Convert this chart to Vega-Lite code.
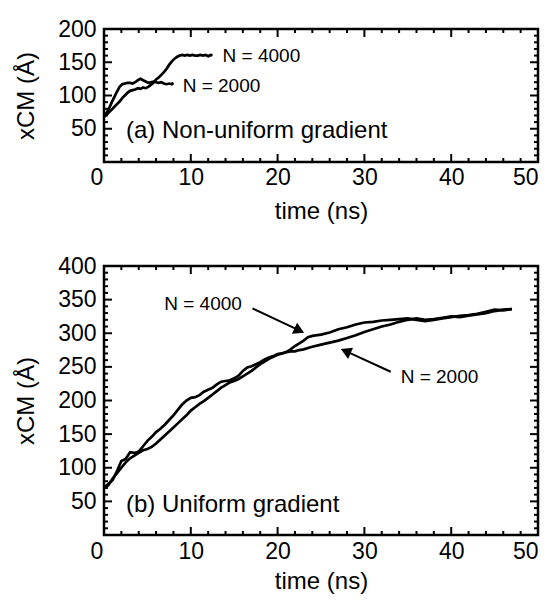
{
  "$schema": "https://vega.github.io/schema/vega-lite/v6.json",
  "padding": {"left": 13, "top": 16, "right": 2, "bottom": 2},
  "spacing": 28,
  "config": {
    "font": "Liberation Sans",
    "view": {"stroke": "black", "strokeWidth": 2.5},
    "axis": {
      "grid": false, "domain": false, "ticks": false, "tickSize": 0,
      "labelColor": "black", "titleColor": "black", "labelFontSize": 23, "titleFontSize": 24,
      "titleFontWeight": "normal", "labelFont": "Liberation Sans", "titleFont": "Liberation Sans"
    },
    "text": {"font": "Liberation Sans", "color": "black"},
    "rule": {"color": "black", "strokeWidth": 2}
  },
  "datasets": {
    "a": [
      {"N": "4000", "t": 0, "x": 68}, {"N": "4000", "t": 0.3, "x": 71}, {"N": "4000", "t": 0.6, "x": 75}, {"N": "4000", "t": 0.9, "x": 79},
      {"N": "4000", "t": 1.2, "x": 83}, {"N": "4000", "t": 1.5, "x": 87}, {"N": "4000", "t": 1.8, "x": 91}, {"N": "4000", "t": 2.1, "x": 96},
      {"N": "4000", "t": 2.4, "x": 100}, {"N": "4000", "t": 2.7, "x": 104}, {"N": "4000", "t": 3.0, "x": 107}, {"N": "4000", "t": 3.3, "x": 108},
      {"N": "4000", "t": 3.6, "x": 109}, {"N": "4000", "t": 3.9, "x": 111}, {"N": "4000", "t": 4.2, "x": 110}, {"N": "4000", "t": 4.5, "x": 112},
      {"N": "4000", "t": 4.8, "x": 111}, {"N": "4000", "t": 5.1, "x": 113}, {"N": "4000", "t": 5.4, "x": 116}, {"N": "4000", "t": 5.7, "x": 119},
      {"N": "4000", "t": 6.0, "x": 124}, {"N": "4000", "t": 6.3, "x": 127}, {"N": "4000", "t": 6.6, "x": 131}, {"N": "4000", "t": 6.9, "x": 135},
      {"N": "4000", "t": 7.2, "x": 140}, {"N": "4000", "t": 7.5, "x": 146}, {"N": "4000", "t": 7.8, "x": 151}, {"N": "4000", "t": 8.1, "x": 155},
      {"N": "4000", "t": 8.4, "x": 158}, {"N": "4000", "t": 8.7, "x": 160}, {"N": "4000", "t": 9.0, "x": 161}, {"N": "4000", "t": 9.3, "x": 160},
      {"N": "4000", "t": 9.6, "x": 161}, {"N": "4000", "t": 9.9, "x": 160}, {"N": "4000", "t": 10.2, "x": 161}, {"N": "4000", "t": 10.5, "x": 160},
      {"N": "4000", "t": 10.8, "x": 160}, {"N": "4000", "t": 11.1, "x": 161}, {"N": "4000", "t": 11.4, "x": 160}, {"N": "4000", "t": 11.7, "x": 161},
      {"N": "4000", "t": 12.0, "x": 159}, {"N": "4000", "t": 12.3, "x": 161}, {"N": "4000", "t": 12.5, "x": 160},
      {"N": "2000", "t": 0, "x": 68}, {"N": "2000", "t": 0.3, "x": 74}, {"N": "2000", "t": 0.6, "x": 81}, {"N": "2000", "t": 0.9, "x": 90},
      {"N": "2000", "t": 1.2, "x": 98}, {"N": "2000", "t": 1.5, "x": 106}, {"N": "2000", "t": 1.8, "x": 113}, {"N": "2000", "t": 2.1, "x": 117},
      {"N": "2000", "t": 2.4, "x": 118}, {"N": "2000", "t": 2.7, "x": 119}, {"N": "2000", "t": 3.0, "x": 119}, {"N": "2000", "t": 3.3, "x": 118},
      {"N": "2000", "t": 3.6, "x": 120}, {"N": "2000", "t": 3.9, "x": 123}, {"N": "2000", "t": 4.2, "x": 125}, {"N": "2000", "t": 4.5, "x": 123},
      {"N": "2000", "t": 4.8, "x": 121}, {"N": "2000", "t": 5.1, "x": 119}, {"N": "2000", "t": 5.4, "x": 120}, {"N": "2000", "t": 5.7, "x": 121},
      {"N": "2000", "t": 6.0, "x": 120}, {"N": "2000", "t": 6.3, "x": 119}, {"N": "2000", "t": 6.6, "x": 120}, {"N": "2000", "t": 6.9, "x": 118},
      {"N": "2000", "t": 7.2, "x": 117}, {"N": "2000", "t": 7.5, "x": 118}, {"N": "2000", "t": 7.8, "x": 117}, {"N": "2000", "t": 8.0, "x": 119}
    ],
    "b": [
      {"N": "4000", "t": 0, "x": 70}, {"N": "4000", "t": 0.5, "x": 76}, {"N": "4000", "t": 1, "x": 82}, {"N": "4000", "t": 1.5, "x": 95},
      {"N": "4000", "t": 2, "x": 110}, {"N": "4000", "t": 2.5, "x": 113}, {"N": "4000", "t": 3, "x": 123}, {"N": "4000", "t": 3.5, "x": 122},
      {"N": "4000", "t": 4, "x": 124}, {"N": "4000", "t": 4.5, "x": 132}, {"N": "4000", "t": 5, "x": 140}, {"N": "4000", "t": 5.5, "x": 146},
      {"N": "4000", "t": 6, "x": 153}, {"N": "4000", "t": 6.5, "x": 158}, {"N": "4000", "t": 7, "x": 164}, {"N": "4000", "t": 7.5, "x": 171},
      {"N": "4000", "t": 8, "x": 178}, {"N": "4000", "t": 8.5, "x": 186}, {"N": "4000", "t": 9, "x": 194}, {"N": "4000", "t": 9.5, "x": 200},
      {"N": "4000", "t": 10, "x": 204}, {"N": "4000", "t": 10.5, "x": 205}, {"N": "4000", "t": 11, "x": 208}, {"N": "4000", "t": 11.5, "x": 213},
      {"N": "4000", "t": 12, "x": 216}, {"N": "4000", "t": 12.5, "x": 219}, {"N": "4000", "t": 13, "x": 224}, {"N": "4000", "t": 13.5, "x": 228},
      {"N": "4000", "t": 14, "x": 229}, {"N": "4000", "t": 14.5, "x": 230}, {"N": "4000", "t": 15, "x": 233}, {"N": "4000", "t": 15.5, "x": 237},
      {"N": "4000", "t": 16, "x": 244}, {"N": "4000", "t": 16.5, "x": 249}, {"N": "4000", "t": 17, "x": 251}, {"N": "4000", "t": 17.5, "x": 254},
      {"N": "4000", "t": 18, "x": 257}, {"N": "4000", "t": 18.5, "x": 261}, {"N": "4000", "t": 19, "x": 264}, {"N": "4000", "t": 19.5, "x": 266},
      {"N": "4000", "t": 20, "x": 269}, {"N": "4000", "t": 20.5, "x": 270}, {"N": "4000", "t": 21, "x": 272}, {"N": "4000", "t": 21.5, "x": 276},
      {"N": "4000", "t": 22, "x": 281}, {"N": "4000", "t": 22.5, "x": 285}, {"N": "4000", "t": 23, "x": 289}, {"N": "4000", "t": 23.5, "x": 294},
      {"N": "4000", "t": 24, "x": 296}, {"N": "4000", "t": 25, "x": 298}, {"N": "4000", "t": 26, "x": 301}, {"N": "4000", "t": 27, "x": 306},
      {"N": "4000", "t": 28, "x": 309}, {"N": "4000", "t": 29, "x": 313}, {"N": "4000", "t": 30, "x": 316}, {"N": "4000", "t": 31, "x": 317},
      {"N": "4000", "t": 32, "x": 319}, {"N": "4000", "t": 33, "x": 320}, {"N": "4000", "t": 34, "x": 321}, {"N": "4000", "t": 35, "x": 322},
      {"N": "4000", "t": 36, "x": 320}, {"N": "4000", "t": 37, "x": 318}, {"N": "4000", "t": 38, "x": 320}, {"N": "4000", "t": 39, "x": 322},
      {"N": "4000", "t": 40, "x": 324}, {"N": "4000", "t": 41, "x": 326}, {"N": "4000", "t": 42, "x": 327}, {"N": "4000", "t": 43, "x": 329},
      {"N": "4000", "t": 44, "x": 332}, {"N": "4000", "t": 45, "x": 335}, {"N": "4000", "t": 46, "x": 334}, {"N": "4000", "t": 47, "x": 336},
      {"N": "2000", "t": 0, "x": 70}, {"N": "2000", "t": 0.5, "x": 74}, {"N": "2000", "t": 1, "x": 84}, {"N": "2000", "t": 1.5, "x": 92},
      {"N": "2000", "t": 2, "x": 100}, {"N": "2000", "t": 2.5, "x": 108}, {"N": "2000", "t": 3, "x": 114}, {"N": "2000", "t": 3.5, "x": 118},
      {"N": "2000", "t": 4, "x": 122}, {"N": "2000", "t": 4.5, "x": 126}, {"N": "2000", "t": 5, "x": 128}, {"N": "2000", "t": 5.5, "x": 131},
      {"N": "2000", "t": 6, "x": 136}, {"N": "2000", "t": 6.5, "x": 142}, {"N": "2000", "t": 7, "x": 148}, {"N": "2000", "t": 7.5, "x": 154},
      {"N": "2000", "t": 8, "x": 160}, {"N": "2000", "t": 8.5, "x": 166}, {"N": "2000", "t": 9, "x": 172}, {"N": "2000", "t": 9.5, "x": 178},
      {"N": "2000", "t": 10, "x": 185}, {"N": "2000", "t": 10.5, "x": 190}, {"N": "2000", "t": 11, "x": 195}, {"N": "2000", "t": 11.5, "x": 199},
      {"N": "2000", "t": 12, "x": 204}, {"N": "2000", "t": 12.5, "x": 209}, {"N": "2000", "t": 13, "x": 214}, {"N": "2000", "t": 13.5, "x": 219},
      {"N": "2000", "t": 14, "x": 223}, {"N": "2000", "t": 14.5, "x": 227}, {"N": "2000", "t": 15, "x": 229}, {"N": "2000", "t": 15.5, "x": 232},
      {"N": "2000", "t": 16, "x": 236}, {"N": "2000", "t": 16.5, "x": 240}, {"N": "2000", "t": 17, "x": 244}, {"N": "2000", "t": 17.5, "x": 249},
      {"N": "2000", "t": 18, "x": 254}, {"N": "2000", "t": 18.5, "x": 258}, {"N": "2000", "t": 19, "x": 262}, {"N": "2000", "t": 19.5, "x": 265},
      {"N": "2000", "t": 20, "x": 268}, {"N": "2000", "t": 20.5, "x": 270}, {"N": "2000", "t": 21, "x": 272}, {"N": "2000", "t": 21.5, "x": 273},
      {"N": "2000", "t": 22, "x": 273}, {"N": "2000", "t": 22.5, "x": 275}, {"N": "2000", "t": 23, "x": 276}, {"N": "2000", "t": 23.5, "x": 278},
      {"N": "2000", "t": 24, "x": 280}, {"N": "2000", "t": 25, "x": 283}, {"N": "2000", "t": 26, "x": 286}, {"N": "2000", "t": 27, "x": 289},
      {"N": "2000", "t": 28, "x": 293}, {"N": "2000", "t": 29, "x": 297}, {"N": "2000", "t": 30, "x": 302}, {"N": "2000", "t": 31, "x": 306},
      {"N": "2000", "t": 32, "x": 310}, {"N": "2000", "t": 33, "x": 313}, {"N": "2000", "t": 34, "x": 317}, {"N": "2000", "t": 35, "x": 320},
      {"N": "2000", "t": 36, "x": 322}, {"N": "2000", "t": 37, "x": 320}, {"N": "2000", "t": 38, "x": 321}, {"N": "2000", "t": 39, "x": 323},
      {"N": "2000", "t": 40, "x": 325}, {"N": "2000", "t": 41, "x": 324}, {"N": "2000", "t": 42, "x": 326}, {"N": "2000", "t": 43, "x": 328},
      {"N": "2000", "t": 44, "x": 330}, {"N": "2000", "t": 45, "x": 333}, {"N": "2000", "t": 46, "x": 335}, {"N": "2000", "t": 47, "x": 336}
    ],
    "titleA": [{"t": 2.53, "x": 46, "label": "(a) Non-uniform gradient"}],
    "titleB": [{"t": 2.53, "x": 44.6, "label": "(b) Uniform gradient"}],
    "labelsA": [{"t": 13.66, "x": 160, "label": "N = 4000"}, {"t": 9.06, "x": 113.8, "label": "N = 2000"}],
    "labelsB": [{"t": 6.94, "x": 343.5, "label": "N = 4000"}, {"t": 34.18, "x": 235.4, "label": "N = 2000"}],
    "arrowsB": [
      {"t": 17.1, "x": 337, "t2": 22.5, "x2": 304.2, "ang": 25},
      {"t": 33.03, "x": 242.8, "t2": 27.85, "x2": 273.3, "ang": 204}
    ],
    "xMajor": [{"v": 10}, {"v": 20}, {"v": 30}, {"v": 40}],
    "xMinor": [{"v": 2}, {"v": 4}, {"v": 6}, {"v": 8}, {"v": 12}, {"v": 14}, {"v": 16}, {"v": 18}, {"v": 22}, {"v": 24}, {"v": 26}, {"v": 28},
               {"v": 32}, {"v": 34}, {"v": 36}, {"v": 38}, {"v": 42}, {"v": 44}, {"v": 46}, {"v": 48}],
    "yMajorA": [{"v": 50}, {"v": 100}, {"v": 150}],
    "yMinorA": [{"v": 10}, {"v": 20}, {"v": 30}, {"v": 40}, {"v": 60}, {"v": 70}, {"v": 80}, {"v": 90}, {"v": 110}, {"v": 120}, {"v": 130}, {"v": 140},
                {"v": 160}, {"v": 170}, {"v": 180}, {"v": 190}],
    "yMajorB": [{"v": 50}, {"v": 100}, {"v": 150}, {"v": 200}, {"v": 250}, {"v": 300}, {"v": 350}],
    "yMinorB": [{"v": 10}, {"v": 20}, {"v": 30}, {"v": 40}, {"v": 60}, {"v": 70}, {"v": 80}, {"v": 90}, {"v": 110}, {"v": 120}, {"v": 130}, {"v": 140},
                {"v": 160}, {"v": 170}, {"v": 180}, {"v": 190}, {"v": 210}, {"v": 220}, {"v": 230}, {"v": 240}, {"v": 260}, {"v": 270}, {"v": 280}, {"v": 290},
                {"v": 310}, {"v": 320}, {"v": 330}, {"v": 340}, {"v": 360}, {"v": 370}, {"v": 380}, {"v": 390}]
  },
  "vconcat": [
    {
      "width": 434,
      "height": 133,
      "layer": [
        {
          "data": {"name": "a"},
          "mark": {"type": "line", "stroke": "black", "strokeWidth": 2.7},
          "encoding": {
            "x": {"field": "t", "type": "quantitative", "scale": {"domain": [0, 50], "nice": false},
              "axis": {"orient": "bottom", "values": [0, 10, 20, 30, 40, 50],
                "labelOffset": {"condition": {"test": "datum.value === 0", "value": -14}, "value": 0},
                "labelPadding": 4, "title": "time (ns)", "titlePadding": 10}},
            "y": {"field": "x", "type": "quantitative", "scale": {"domain": [0, 200], "nice": false},
              "axis": {"orient": "left", "values": [50, 100, 150, 200],
                "labelPadding": 8, "title": "xCM (Å)", "titlePadding": 19}},
            "detail": {"field": "N"}
          }
        },
        {
          "data": {"name": "titleA"},
          "mark": {"type": "text", "align": "left", "baseline": "middle", "fontSize": 24},
          "encoding": {
            "x": {"field": "t", "type": "quantitative", "axis": null},
            "y": {"field": "x", "type": "quantitative", "axis": null},
            "text": {"field": "label"}
          }
        },
        {
          "data": {"name": "labelsA"},
          "mark": {"type": "text", "align": "left", "baseline": "middle", "fontSize": 19},
          "encoding": {
            "x": {"field": "t", "type": "quantitative", "axis": null},
            "y": {"field": "x", "type": "quantitative", "axis": null},
            "text": {"field": "label"}
          }
        },
        {"data": {"name": "xMajor"}, "mark": {"type": "rule"},
          "encoding": {"x": {"field": "v", "type": "quantitative", "axis": null}, "y": {"datum": 0, "axis": null}, "y2": {"datum": 12}}},
        {"data": {"name": "xMinor"}, "mark": {"type": "rule"},
          "encoding": {"x": {"field": "v", "type": "quantitative", "axis": null}, "y": {"datum": 0, "axis": null}, "y2": {"datum": 6}}},
        {"data": {"name": "xMajor"}, "mark": {"type": "rule"},
          "encoding": {"x": {"field": "v", "type": "quantitative", "axis": null}, "y": {"datum": 200, "axis": null}, "y2": {"datum": 188}}},
        {"data": {"name": "xMinor"}, "mark": {"type": "rule"},
          "encoding": {"x": {"field": "v", "type": "quantitative", "axis": null}, "y": {"datum": 200, "axis": null}, "y2": {"datum": 194}}},
        {"data": {"name": "yMajorA"}, "mark": {"type": "rule"},
          "encoding": {"y": {"field": "v", "type": "quantitative", "axis": null}, "x": {"datum": 0, "axis": null}, "x2": {"datum": 0.92}}},
        {"data": {"name": "yMinorA"}, "mark": {"type": "rule"},
          "encoding": {"y": {"field": "v", "type": "quantitative", "axis": null}, "x": {"datum": 0, "axis": null}, "x2": {"datum": 0.46}}},
        {"data": {"name": "yMajorA"}, "mark": {"type": "rule"},
          "encoding": {"y": {"field": "v", "type": "quantitative", "axis": null}, "x": {"datum": 50, "axis": null}, "x2": {"datum": 49.08}}},
        {"data": {"name": "yMinorA"}, "mark": {"type": "rule"},
          "encoding": {"y": {"field": "v", "type": "quantitative", "axis": null}, "x": {"datum": 50, "axis": null}, "x2": {"datum": 49.54}}}
      ],
      "resolve": {"axis": {"x": "independent", "y": "independent"}}
    },
    {
      "width": 434,
      "height": 269,
      "layer": [
        {
          "data": {"name": "b"},
          "mark": {"type": "line", "stroke": "black", "strokeWidth": 2.7},
          "encoding": {
            "x": {"field": "t", "type": "quantitative", "scale": {"domain": [0, 50], "nice": false},
              "axis": {"orient": "bottom", "values": [0, 10, 20, 30, 40, 50],
                "labelOffset": {"condition": {"test": "datum.value === 0", "value": -14}, "value": 0},
                "labelPadding": 5, "title": "time (ns)", "titlePadding": 6}},
            "y": {"field": "x", "type": "quantitative", "scale": {"domain": [0, 400], "nice": false},
              "axis": {"orient": "left", "values": [50, 100, 150, 200, 250, 300, 350, 400],
                "labelPadding": 8, "title": "xCM (Å)", "titlePadding": 19}},
            "detail": {"field": "N"}
          }
        },
        {
          "data": {"name": "titleB"},
          "mark": {"type": "text", "align": "left", "baseline": "middle", "fontSize": 24},
          "encoding": {
            "x": {"field": "t", "type": "quantitative", "axis": null},
            "y": {"field": "x", "type": "quantitative", "axis": null},
            "text": {"field": "label"}
          }
        },
        {
          "data": {"name": "labelsB"},
          "mark": {"type": "text", "align": "left", "baseline": "middle", "fontSize": 19},
          "encoding": {
            "x": {"field": "t", "type": "quantitative", "axis": null},
            "y": {"field": "x", "type": "quantitative", "axis": null},
            "text": {"field": "label"}
          }
        },
        {
          "data": {"name": "arrowsB"},
          "mark": {"type": "rule", "stroke": "black", "strokeWidth": 2},
          "encoding": {
            "x": {"field": "t", "type": "quantitative", "axis": null},
            "y": {"field": "x", "type": "quantitative", "axis": null},
            "x2": {"field": "t2"},
            "y2": {"field": "x2"}
          }
        },
        {
          "data": {"name": "arrowsB"},
          "mark": {"type": "point", "shape": "triangle-right", "filled": true, "color": "black", "size": 150, "opacity": 1},
          "encoding": {
            "x": {"field": "t2", "type": "quantitative", "axis": null},
            "y": {"field": "x2", "type": "quantitative", "axis": null},
            "angle": {"field": "ang", "type": "quantitative", "scale": null}
          }
        },
        {"data": {"name": "xMajor"}, "mark": {"type": "rule"},
          "encoding": {"x": {"field": "v", "type": "quantitative", "axis": null}, "y": {"datum": 0, "axis": null}, "y2": {"datum": 11.9}}},
        {"data": {"name": "xMinor"}, "mark": {"type": "rule"},
          "encoding": {"x": {"field": "v", "type": "quantitative", "axis": null}, "y": {"datum": 0, "axis": null}, "y2": {"datum": 5.95}}},
        {"data": {"name": "xMajor"}, "mark": {"type": "rule"},
          "encoding": {"x": {"field": "v", "type": "quantitative", "axis": null}, "y": {"datum": 400, "axis": null}, "y2": {"datum": 388.1}}},
        {"data": {"name": "xMinor"}, "mark": {"type": "rule"},
          "encoding": {"x": {"field": "v", "type": "quantitative", "axis": null}, "y": {"datum": 400, "axis": null}, "y2": {"datum": 394.05}}},
        {"data": {"name": "yMajorB"}, "mark": {"type": "rule"},
          "encoding": {"y": {"field": "v", "type": "quantitative", "axis": null}, "x": {"datum": 0, "axis": null}, "x2": {"datum": 0.92}}},
        {"data": {"name": "yMinorB"}, "mark": {"type": "rule"},
          "encoding": {"y": {"field": "v", "type": "quantitative", "axis": null}, "x": {"datum": 0, "axis": null}, "x2": {"datum": 0.46}}},
        {"data": {"name": "yMajorB"}, "mark": {"type": "rule"},
          "encoding": {"y": {"field": "v", "type": "quantitative", "axis": null}, "x": {"datum": 50, "axis": null}, "x2": {"datum": 49.08}}},
        {"data": {"name": "yMinorB"}, "mark": {"type": "rule"},
          "encoding": {"y": {"field": "v", "type": "quantitative", "axis": null}, "x": {"datum": 50, "axis": null}, "x2": {"datum": 49.54}}}
      ],
      "resolve": {"axis": {"x": "independent", "y": "independent"}}
    }
  ]
}
